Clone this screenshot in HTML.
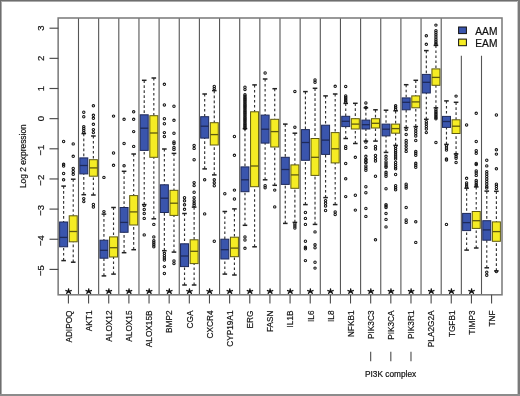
<!DOCTYPE html>
<html><head><meta charset="utf-8"><style>
html,body{margin:0;padding:0;background:#fff;}
body{width:520px;height:396px;overflow:hidden;position:relative;font-family:"Liberation Sans",sans-serif;}
svg text{font-family:"Liberation Sans",sans-serif;}
.f{position:absolute;}
</style></head><body>
<svg width="520" height="396" viewBox="0 0 520 396" style="display:block;will-change:transform">
<line x1="78.50" y1="18.0" x2="78.50" y2="294.8" stroke="#555" stroke-width="1.1"/>
<line x1="98.65" y1="18.0" x2="98.65" y2="294.8" stroke="#555" stroke-width="1.1"/>
<line x1="118.80" y1="18.0" x2="118.80" y2="294.8" stroke="#555" stroke-width="1.1"/>
<line x1="138.95" y1="18.0" x2="138.95" y2="294.8" stroke="#555" stroke-width="1.1"/>
<line x1="159.10" y1="18.0" x2="159.10" y2="294.8" stroke="#555" stroke-width="1.1"/>
<line x1="179.25" y1="18.0" x2="179.25" y2="294.8" stroke="#555" stroke-width="1.1"/>
<line x1="199.40" y1="18.0" x2="199.40" y2="294.8" stroke="#555" stroke-width="1.1"/>
<line x1="219.55" y1="18.0" x2="219.55" y2="294.8" stroke="#555" stroke-width="1.1"/>
<line x1="239.70" y1="18.0" x2="239.70" y2="294.8" stroke="#555" stroke-width="1.1"/>
<line x1="259.85" y1="18.0" x2="259.85" y2="294.8" stroke="#555" stroke-width="1.1"/>
<line x1="280.00" y1="18.0" x2="280.00" y2="294.8" stroke="#555" stroke-width="1.1"/>
<line x1="300.15" y1="18.0" x2="300.15" y2="294.8" stroke="#555" stroke-width="1.1"/>
<line x1="320.30" y1="18.0" x2="320.30" y2="294.8" stroke="#555" stroke-width="1.1"/>
<line x1="340.45" y1="18.0" x2="340.45" y2="294.8" stroke="#555" stroke-width="1.1"/>
<line x1="360.60" y1="18.0" x2="360.60" y2="294.8" stroke="#555" stroke-width="1.1"/>
<line x1="380.75" y1="18.0" x2="380.75" y2="294.8" stroke="#555" stroke-width="1.1"/>
<line x1="400.90" y1="18.0" x2="400.90" y2="294.8" stroke="#555" stroke-width="1.1"/>
<line x1="421.05" y1="18.0" x2="421.05" y2="294.8" stroke="#555" stroke-width="1.1"/>
<line x1="441.20" y1="18.0" x2="441.20" y2="294.8" stroke="#555" stroke-width="1.1"/>
<line x1="461.35" y1="55.5" x2="461.35" y2="294.8" stroke="#555" stroke-width="1.1"/>
<line x1="481.50" y1="55.5" x2="481.50" y2="294.8" stroke="#555" stroke-width="1.1"/>
<line x1="63.62" y1="186.1" x2="63.62" y2="222" stroke="#333" stroke-width="1.15" stroke-dasharray="2.6 2.4"/>
<line x1="63.62" y1="260.6" x2="63.62" y2="246.8" stroke="#333" stroke-width="1.15" stroke-dasharray="2.6 2.4"/>
<line x1="61.33" y1="186.1" x2="65.92" y2="186.1" stroke="#222" stroke-width="1.5"/>
<line x1="61.33" y1="260.6" x2="65.92" y2="260.6" stroke="#222" stroke-width="1.5"/>
<rect x="59.62" y="222" width="8.00" height="24.80" fill="#3a55ad" stroke="#1e2a5a" stroke-width="1"/>
<line x1="59.62" y1="237.4" x2="67.62" y2="237.4" stroke="#1e2a5a" stroke-width="1.3"/>
<circle cx="63.62" cy="141.5" r="1.2" fill="none" stroke="#151515" stroke-width="1.05"/>
<circle cx="63.62" cy="164.3" r="1.2" fill="none" stroke="#151515" stroke-width="1.05"/>
<circle cx="63.62" cy="166" r="1.2" fill="none" stroke="#151515" stroke-width="1.05"/>
<circle cx="63.62" cy="173.5" r="1.2" fill="none" stroke="#151515" stroke-width="1.05"/>
<circle cx="63.62" cy="179.8" r="1.2" fill="none" stroke="#151515" stroke-width="1.05"/>
<line x1="73.22" y1="179.2" x2="73.22" y2="215.8" stroke="#333" stroke-width="1.15" stroke-dasharray="2.6 2.4"/>
<line x1="73.22" y1="262.2" x2="73.22" y2="241.8" stroke="#333" stroke-width="1.15" stroke-dasharray="2.6 2.4"/>
<line x1="70.92" y1="179.2" x2="75.52" y2="179.2" stroke="#222" stroke-width="1.5"/>
<line x1="70.92" y1="262.2" x2="75.52" y2="262.2" stroke="#222" stroke-width="1.5"/>
<rect x="69.22" y="215.8" width="8.00" height="26.00" fill="#f5ec24" stroke="#5e5a10" stroke-width="1"/>
<line x1="69.22" y1="231.5" x2="77.22" y2="231.5" stroke="#5e5a10" stroke-width="1.3"/>
<circle cx="73.22" cy="143.9" r="1.2" fill="none" stroke="#151515" stroke-width="1.05"/>
<circle cx="73.22" cy="156.3" r="1.2" fill="none" stroke="#151515" stroke-width="1.05"/>
<circle cx="73.22" cy="168.5" r="1.2" fill="none" stroke="#151515" stroke-width="1.05"/>
<circle cx="73.22" cy="171.5" r="1.2" fill="none" stroke="#151515" stroke-width="1.05"/>
<circle cx="73.22" cy="174.3" r="1.2" fill="none" stroke="#151515" stroke-width="1.05"/>
<line x1="83.78" y1="133.6" x2="83.78" y2="157.9" stroke="#333" stroke-width="1.15" stroke-dasharray="2.6 2.4"/>
<line x1="83.78" y1="194.7" x2="83.78" y2="173.9" stroke="#333" stroke-width="1.15" stroke-dasharray="2.6 2.4"/>
<line x1="81.48" y1="133.6" x2="86.08" y2="133.6" stroke="#222" stroke-width="1.5"/>
<line x1="81.48" y1="194.7" x2="86.08" y2="194.7" stroke="#222" stroke-width="1.5"/>
<rect x="79.78" y="157.9" width="8.00" height="16.00" fill="#3a55ad" stroke="#1e2a5a" stroke-width="1"/>
<line x1="79.78" y1="165.5" x2="87.78" y2="165.5" stroke="#1e2a5a" stroke-width="1.3"/>
<circle cx="83.78" cy="112.2" r="1.2" fill="none" stroke="#151515" stroke-width="1.05"/>
<circle cx="83.78" cy="116.7" r="1.2" fill="none" stroke="#151515" stroke-width="1.05"/>
<circle cx="83.78" cy="126.6" r="1.2" fill="none" stroke="#151515" stroke-width="1.05"/>
<circle cx="83.78" cy="128.5" r="1.2" fill="none" stroke="#151515" stroke-width="1.05"/>
<circle cx="83.78" cy="130.5" r="1.2" fill="none" stroke="#151515" stroke-width="1.05"/>
<circle cx="83.78" cy="132.6" r="1.2" fill="none" stroke="#151515" stroke-width="1.05"/>
<circle cx="83.78" cy="198.6" r="1.2" fill="none" stroke="#151515" stroke-width="1.05"/>
<circle cx="83.78" cy="201.6" r="1.2" fill="none" stroke="#151515" stroke-width="1.05"/>
<line x1="93.38" y1="136" x2="93.38" y2="159.7" stroke="#333" stroke-width="1.15" stroke-dasharray="2.6 2.4"/>
<line x1="93.38" y1="195" x2="93.38" y2="176.2" stroke="#333" stroke-width="1.15" stroke-dasharray="2.6 2.4"/>
<line x1="91.08" y1="136" x2="95.67" y2="136" stroke="#222" stroke-width="1.5"/>
<line x1="91.08" y1="195" x2="95.67" y2="195" stroke="#222" stroke-width="1.5"/>
<rect x="89.38" y="159.7" width="8.00" height="16.50" fill="#f5ec24" stroke="#5e5a10" stroke-width="1"/>
<line x1="89.38" y1="167.9" x2="97.38" y2="167.9" stroke="#5e5a10" stroke-width="1.3"/>
<circle cx="93.38" cy="105.8" r="1.2" fill="none" stroke="#151515" stroke-width="1.05"/>
<circle cx="93.38" cy="115.3" r="1.2" fill="none" stroke="#151515" stroke-width="1.05"/>
<circle cx="93.38" cy="118.3" r="1.2" fill="none" stroke="#151515" stroke-width="1.05"/>
<circle cx="93.38" cy="124.3" r="1.2" fill="none" stroke="#151515" stroke-width="1.05"/>
<circle cx="93.38" cy="129.6" r="1.2" fill="none" stroke="#151515" stroke-width="1.05"/>
<circle cx="93.38" cy="132.6" r="1.2" fill="none" stroke="#151515" stroke-width="1.05"/>
<circle cx="93.38" cy="204.5" r="1.2" fill="none" stroke="#151515" stroke-width="1.05"/>
<circle cx="93.38" cy="207" r="1.2" fill="none" stroke="#151515" stroke-width="1.05"/>
<line x1="103.93" y1="214.1" x2="103.93" y2="240.2" stroke="#333" stroke-width="1.15" stroke-dasharray="2.6 2.4"/>
<line x1="103.93" y1="275.9" x2="103.93" y2="258.2" stroke="#333" stroke-width="1.15" stroke-dasharray="2.6 2.4"/>
<line x1="101.63" y1="214.1" x2="106.23" y2="214.1" stroke="#222" stroke-width="1.5"/>
<line x1="101.63" y1="275.9" x2="106.23" y2="275.9" stroke="#222" stroke-width="1.5"/>
<rect x="99.93" y="240.2" width="8.00" height="18.00" fill="#3a55ad" stroke="#1e2a5a" stroke-width="1"/>
<line x1="99.93" y1="250.3" x2="107.93" y2="250.3" stroke="#1e2a5a" stroke-width="1.3"/>
<circle cx="103.93" cy="177.4" r="1.2" fill="none" stroke="#151515" stroke-width="1.05"/>
<circle cx="103.93" cy="211.6" r="1.2" fill="none" stroke="#151515" stroke-width="1.05"/>
<line x1="113.53" y1="207.5" x2="113.53" y2="236.9" stroke="#333" stroke-width="1.15" stroke-dasharray="2.6 2.4"/>
<line x1="113.53" y1="274.1" x2="113.53" y2="257" stroke="#333" stroke-width="1.15" stroke-dasharray="2.6 2.4"/>
<line x1="111.23" y1="207.5" x2="115.83" y2="207.5" stroke="#222" stroke-width="1.5"/>
<line x1="111.23" y1="274.1" x2="115.83" y2="274.1" stroke="#222" stroke-width="1.5"/>
<rect x="109.53" y="236.9" width="8.00" height="20.10" fill="#f5ec24" stroke="#5e5a10" stroke-width="1"/>
<line x1="109.53" y1="247.7" x2="117.53" y2="247.7" stroke="#5e5a10" stroke-width="1.3"/>
<circle cx="113.53" cy="116.1" r="1.2" fill="none" stroke="#151515" stroke-width="1.05"/>
<circle cx="113.53" cy="153" r="1.2" fill="none" stroke="#151515" stroke-width="1.05"/>
<circle cx="113.53" cy="165.3" r="1.2" fill="none" stroke="#151515" stroke-width="1.05"/>
<line x1="124.08" y1="171.3" x2="124.08" y2="207.5" stroke="#333" stroke-width="1.15" stroke-dasharray="2.6 2.4"/>
<line x1="124.08" y1="252.7" x2="124.08" y2="232.3" stroke="#333" stroke-width="1.15" stroke-dasharray="2.6 2.4"/>
<line x1="121.78" y1="171.3" x2="126.38" y2="171.3" stroke="#222" stroke-width="1.5"/>
<line x1="121.78" y1="252.7" x2="126.38" y2="252.7" stroke="#222" stroke-width="1.5"/>
<rect x="120.08" y="207.5" width="8.00" height="24.80" fill="#3a55ad" stroke="#1e2a5a" stroke-width="1"/>
<line x1="120.08" y1="222.4" x2="128.07" y2="222.4" stroke="#1e2a5a" stroke-width="1.3"/>
<circle cx="124.08" cy="119.3" r="1.2" fill="none" stroke="#151515" stroke-width="1.05"/>
<circle cx="124.08" cy="143.5" r="1.2" fill="none" stroke="#151515" stroke-width="1.05"/>
<circle cx="124.08" cy="165.8" r="1.2" fill="none" stroke="#151515" stroke-width="1.05"/>
<line x1="133.68" y1="154" x2="133.68" y2="195.6" stroke="#333" stroke-width="1.15" stroke-dasharray="2.6 2.4"/>
<line x1="133.68" y1="249.7" x2="133.68" y2="225" stroke="#333" stroke-width="1.15" stroke-dasharray="2.6 2.4"/>
<line x1="131.38" y1="154" x2="135.98" y2="154" stroke="#222" stroke-width="1.5"/>
<line x1="131.38" y1="249.7" x2="135.98" y2="249.7" stroke="#222" stroke-width="1.5"/>
<rect x="129.68" y="195.6" width="8.00" height="29.40" fill="#f5ec24" stroke="#5e5a10" stroke-width="1"/>
<line x1="129.68" y1="211.9" x2="137.68" y2="211.9" stroke="#5e5a10" stroke-width="1.3"/>
<circle cx="133.68" cy="111.8" r="1.2" fill="none" stroke="#151515" stroke-width="1.05"/>
<circle cx="133.68" cy="119.3" r="1.2" fill="none" stroke="#151515" stroke-width="1.05"/>
<circle cx="133.68" cy="131.6" r="1.2" fill="none" stroke="#151515" stroke-width="1.05"/>
<circle cx="133.68" cy="146.4" r="1.2" fill="none" stroke="#151515" stroke-width="1.05"/>
<line x1="144.22" y1="80.3" x2="144.22" y2="114.8" stroke="#333" stroke-width="1.15" stroke-dasharray="2.6 2.4"/>
<line x1="144.22" y1="204.6" x2="144.22" y2="150.4" stroke="#333" stroke-width="1.15" stroke-dasharray="2.6 2.4"/>
<line x1="141.92" y1="80.3" x2="146.52" y2="80.3" stroke="#222" stroke-width="1.5"/>
<line x1="141.92" y1="204.6" x2="146.52" y2="204.6" stroke="#222" stroke-width="1.5"/>
<rect x="140.22" y="114.8" width="8.00" height="35.60" fill="#3a55ad" stroke="#1e2a5a" stroke-width="1"/>
<line x1="140.22" y1="128.2" x2="148.22" y2="128.2" stroke="#1e2a5a" stroke-width="1.3"/>
<circle cx="144.22" cy="205.5" r="1.2" fill="none" stroke="#151515" stroke-width="1.05"/>
<circle cx="144.22" cy="209.5" r="1.2" fill="none" stroke="#151515" stroke-width="1.05"/>
<circle cx="144.22" cy="213.5" r="1.2" fill="none" stroke="#151515" stroke-width="1.05"/>
<circle cx="144.22" cy="218.4" r="1.2" fill="none" stroke="#151515" stroke-width="1.05"/>
<circle cx="144.22" cy="234.9" r="1.2" fill="none" stroke="#151515" stroke-width="1.05"/>
<line x1="153.82" y1="78" x2="153.82" y2="115.7" stroke="#333" stroke-width="1.15" stroke-dasharray="2.6 2.4"/>
<line x1="153.82" y1="218.8" x2="153.82" y2="157.3" stroke="#333" stroke-width="1.15" stroke-dasharray="2.6 2.4"/>
<line x1="151.52" y1="78" x2="156.12" y2="78" stroke="#222" stroke-width="1.5"/>
<line x1="151.52" y1="218.8" x2="156.12" y2="218.8" stroke="#222" stroke-width="1.5"/>
<rect x="149.82" y="115.7" width="8.00" height="41.60" fill="#f5ec24" stroke="#5e5a10" stroke-width="1"/>
<line x1="149.82" y1="133" x2="157.82" y2="133" stroke="#5e5a10" stroke-width="1.3"/>
<circle cx="153.82" cy="224.4" r="1.2" fill="none" stroke="#151515" stroke-width="1.05"/>
<circle cx="153.82" cy="236.9" r="1.2" fill="none" stroke="#151515" stroke-width="1.05"/>
<circle cx="153.82" cy="240.8" r="1.2" fill="none" stroke="#151515" stroke-width="1.05"/>
<circle cx="153.82" cy="242.8" r="1.2" fill="none" stroke="#151515" stroke-width="1.05"/>
<circle cx="153.82" cy="244.8" r="1.2" fill="none" stroke="#151515" stroke-width="1.05"/>
<circle cx="153.82" cy="246.8" r="1.2" fill="none" stroke="#151515" stroke-width="1.05"/>
<line x1="164.37" y1="149" x2="164.37" y2="184.8" stroke="#333" stroke-width="1.15" stroke-dasharray="2.6 2.4"/>
<line x1="164.37" y1="250.7" x2="164.37" y2="212.5" stroke="#333" stroke-width="1.15" stroke-dasharray="2.6 2.4"/>
<line x1="162.07" y1="149" x2="166.67" y2="149" stroke="#222" stroke-width="1.5"/>
<line x1="162.07" y1="250.7" x2="166.67" y2="250.7" stroke="#222" stroke-width="1.5"/>
<rect x="160.37" y="184.8" width="8.00" height="27.70" fill="#3a55ad" stroke="#1e2a5a" stroke-width="1"/>
<line x1="160.37" y1="198.2" x2="168.37" y2="198.2" stroke="#1e2a5a" stroke-width="1.3"/>
<circle cx="164.37" cy="84.3" r="1.2" fill="none" stroke="#151515" stroke-width="1.05"/>
<circle cx="164.37" cy="104.9" r="1.2" fill="none" stroke="#151515" stroke-width="1.05"/>
<circle cx="164.37" cy="118.7" r="1.2" fill="none" stroke="#151515" stroke-width="1.05"/>
<circle cx="164.37" cy="123.7" r="1.2" fill="none" stroke="#151515" stroke-width="1.05"/>
<circle cx="164.37" cy="132.6" r="1.2" fill="none" stroke="#151515" stroke-width="1.05"/>
<circle cx="164.37" cy="136.5" r="1.2" fill="none" stroke="#151515" stroke-width="1.05"/>
<circle cx="164.37" cy="253.3" r="1.2" fill="none" stroke="#151515" stroke-width="1.05"/>
<circle cx="164.37" cy="255.7" r="1.2" fill="none" stroke="#151515" stroke-width="1.05"/>
<circle cx="164.37" cy="258" r="1.2" fill="none" stroke="#151515" stroke-width="1.05"/>
<circle cx="164.37" cy="260" r="1.2" fill="none" stroke="#151515" stroke-width="1.05"/>
<circle cx="164.37" cy="266.6" r="1.2" fill="none" stroke="#151515" stroke-width="1.05"/>
<circle cx="164.37" cy="273.5" r="1.2" fill="none" stroke="#151515" stroke-width="1.05"/>
<line x1="173.97" y1="153.4" x2="173.97" y2="190.3" stroke="#333" stroke-width="1.15" stroke-dasharray="2.6 2.4"/>
<line x1="173.97" y1="252.1" x2="173.97" y2="215.4" stroke="#333" stroke-width="1.15" stroke-dasharray="2.6 2.4"/>
<line x1="171.67" y1="153.4" x2="176.28" y2="153.4" stroke="#222" stroke-width="1.5"/>
<line x1="171.67" y1="252.1" x2="176.28" y2="252.1" stroke="#222" stroke-width="1.5"/>
<rect x="169.97" y="190.3" width="8.00" height="25.10" fill="#f5ec24" stroke="#5e5a10" stroke-width="1"/>
<line x1="169.97" y1="203.2" x2="177.97" y2="203.2" stroke="#5e5a10" stroke-width="1.3"/>
<circle cx="173.97" cy="106.2" r="1.2" fill="none" stroke="#151515" stroke-width="1.05"/>
<circle cx="173.97" cy="120.3" r="1.2" fill="none" stroke="#151515" stroke-width="1.05"/>
<circle cx="173.97" cy="133.2" r="1.2" fill="none" stroke="#151515" stroke-width="1.05"/>
<circle cx="173.97" cy="141.9" r="1.2" fill="none" stroke="#151515" stroke-width="1.05"/>
<circle cx="173.97" cy="143.5" r="1.2" fill="none" stroke="#151515" stroke-width="1.05"/>
<circle cx="173.97" cy="147.4" r="1.2" fill="none" stroke="#151515" stroke-width="1.05"/>
<circle cx="173.97" cy="149.4" r="1.2" fill="none" stroke="#151515" stroke-width="1.05"/>
<circle cx="173.97" cy="261" r="1.2" fill="none" stroke="#151515" stroke-width="1.05"/>
<circle cx="173.97" cy="263.6" r="1.2" fill="none" stroke="#151515" stroke-width="1.05"/>
<line x1="184.52" y1="213.5" x2="184.52" y2="243.8" stroke="#333" stroke-width="1.15" stroke-dasharray="2.6 2.4"/>
<line x1="184.52" y1="285" x2="184.52" y2="266.6" stroke="#333" stroke-width="1.15" stroke-dasharray="2.6 2.4"/>
<line x1="182.22" y1="213.5" x2="186.82" y2="213.5" stroke="#222" stroke-width="1.5"/>
<line x1="182.22" y1="285" x2="186.82" y2="285" stroke="#222" stroke-width="1.5"/>
<rect x="180.52" y="243.8" width="8.00" height="22.80" fill="#3a55ad" stroke="#1e2a5a" stroke-width="1"/>
<line x1="180.52" y1="256" x2="188.52" y2="256" stroke="#1e2a5a" stroke-width="1.3"/>
<circle cx="184.52" cy="197.7" r="1.2" fill="none" stroke="#151515" stroke-width="1.05"/>
<circle cx="184.52" cy="200.8" r="1.2" fill="none" stroke="#151515" stroke-width="1.05"/>
<circle cx="184.52" cy="204.8" r="1.2" fill="none" stroke="#151515" stroke-width="1.05"/>
<circle cx="184.52" cy="209.3" r="1.2" fill="none" stroke="#151515" stroke-width="1.05"/>
<line x1="194.12" y1="207.1" x2="194.12" y2="239.8" stroke="#333" stroke-width="1.15" stroke-dasharray="2.6 2.4"/>
<line x1="194.12" y1="285" x2="194.12" y2="263.6" stroke="#333" stroke-width="1.15" stroke-dasharray="2.6 2.4"/>
<line x1="191.82" y1="207.1" x2="196.43" y2="207.1" stroke="#222" stroke-width="1.5"/>
<line x1="191.82" y1="285" x2="196.43" y2="285" stroke="#222" stroke-width="1.5"/>
<rect x="190.12" y="239.8" width="8.00" height="23.80" fill="#f5ec24" stroke="#5e5a10" stroke-width="1"/>
<line x1="190.12" y1="251.3" x2="198.12" y2="251.3" stroke="#5e5a10" stroke-width="1.3"/>
<circle cx="194.12" cy="145.4" r="1.2" fill="none" stroke="#151515" stroke-width="1.05"/>
<circle cx="194.12" cy="148.4" r="1.2" fill="none" stroke="#151515" stroke-width="1.05"/>
<circle cx="194.12" cy="159.7" r="1.2" fill="none" stroke="#151515" stroke-width="1.05"/>
<circle cx="194.12" cy="182.6" r="1.2" fill="none" stroke="#151515" stroke-width="1.05"/>
<circle cx="194.12" cy="185.6" r="1.2" fill="none" stroke="#151515" stroke-width="1.05"/>
<circle cx="194.12" cy="192.2" r="1.2" fill="none" stroke="#151515" stroke-width="1.05"/>
<circle cx="194.12" cy="197.7" r="1.2" fill="none" stroke="#151515" stroke-width="1.05"/>
<circle cx="194.12" cy="200.8" r="1.2" fill="none" stroke="#151515" stroke-width="1.05"/>
<circle cx="194.12" cy="203.3" r="1.2" fill="none" stroke="#151515" stroke-width="1.05"/>
<circle cx="194.12" cy="205.3" r="1.2" fill="none" stroke="#151515" stroke-width="1.05"/>
<line x1="204.67" y1="94" x2="204.67" y2="116.7" stroke="#333" stroke-width="1.15" stroke-dasharray="2.6 2.4"/>
<line x1="204.67" y1="168.9" x2="204.67" y2="138.1" stroke="#333" stroke-width="1.15" stroke-dasharray="2.6 2.4"/>
<line x1="202.37" y1="94" x2="206.97" y2="94" stroke="#222" stroke-width="1.5"/>
<line x1="202.37" y1="168.9" x2="206.97" y2="168.9" stroke="#222" stroke-width="1.5"/>
<rect x="200.67" y="116.7" width="8.00" height="21.40" fill="#3a55ad" stroke="#1e2a5a" stroke-width="1"/>
<line x1="200.67" y1="126.2" x2="208.67" y2="126.2" stroke="#1e2a5a" stroke-width="1.3"/>
<circle cx="204.67" cy="179.8" r="1.2" fill="none" stroke="#151515" stroke-width="1.05"/>
<circle cx="204.67" cy="213.9" r="1.2" fill="none" stroke="#151515" stroke-width="1.05"/>
<line x1="214.27" y1="90.6" x2="214.27" y2="122.7" stroke="#333" stroke-width="1.15" stroke-dasharray="2.6 2.4"/>
<line x1="214.27" y1="174.9" x2="214.27" y2="145" stroke="#333" stroke-width="1.15" stroke-dasharray="2.6 2.4"/>
<line x1="211.97" y1="90.6" x2="216.57" y2="90.6" stroke="#222" stroke-width="1.5"/>
<line x1="211.97" y1="174.9" x2="216.57" y2="174.9" stroke="#222" stroke-width="1.5"/>
<rect x="210.27" y="122.7" width="8.00" height="22.30" fill="#f5ec24" stroke="#5e5a10" stroke-width="1"/>
<line x1="210.27" y1="134.6" x2="218.27" y2="134.6" stroke="#5e5a10" stroke-width="1.3"/>
<circle cx="214.27" cy="86.4" r="1.2" fill="none" stroke="#151515" stroke-width="1.05"/>
<circle cx="214.27" cy="88.6" r="1.2" fill="none" stroke="#151515" stroke-width="1.05"/>
<circle cx="214.27" cy="179.8" r="1.2" fill="none" stroke="#151515" stroke-width="1.05"/>
<circle cx="214.27" cy="182.8" r="1.2" fill="none" stroke="#151515" stroke-width="1.05"/>
<circle cx="214.27" cy="185.7" r="1.2" fill="none" stroke="#151515" stroke-width="1.05"/>
<circle cx="214.27" cy="241.2" r="1.2" fill="none" stroke="#151515" stroke-width="1.05"/>
<line x1="224.82" y1="211.5" x2="224.82" y2="239.2" stroke="#333" stroke-width="1.15" stroke-dasharray="2.6 2.4"/>
<line x1="224.82" y1="274.1" x2="224.82" y2="259" stroke="#333" stroke-width="1.15" stroke-dasharray="2.6 2.4"/>
<line x1="222.52" y1="211.5" x2="227.12" y2="211.5" stroke="#222" stroke-width="1.5"/>
<line x1="222.52" y1="274.1" x2="227.12" y2="274.1" stroke="#222" stroke-width="1.5"/>
<rect x="220.82" y="239.2" width="8.00" height="19.80" fill="#3a55ad" stroke="#1e2a5a" stroke-width="1"/>
<line x1="220.82" y1="249.7" x2="228.82" y2="249.7" stroke="#1e2a5a" stroke-width="1.3"/>
<circle cx="224.82" cy="193.7" r="1.2" fill="none" stroke="#151515" stroke-width="1.05"/>
<line x1="234.42" y1="208.9" x2="234.42" y2="237.2" stroke="#333" stroke-width="1.15" stroke-dasharray="2.6 2.4"/>
<line x1="234.42" y1="275" x2="234.42" y2="256.7" stroke="#333" stroke-width="1.15" stroke-dasharray="2.6 2.4"/>
<line x1="232.12" y1="208.9" x2="236.72" y2="208.9" stroke="#222" stroke-width="1.5"/>
<line x1="232.12" y1="275" x2="236.72" y2="275" stroke="#222" stroke-width="1.5"/>
<rect x="230.42" y="237.2" width="8.00" height="19.50" fill="#f5ec24" stroke="#5e5a10" stroke-width="1"/>
<line x1="230.42" y1="248.1" x2="238.42" y2="248.1" stroke="#5e5a10" stroke-width="1.3"/>
<circle cx="234.42" cy="136.5" r="1.2" fill="none" stroke="#151515" stroke-width="1.05"/>
<circle cx="234.42" cy="155.3" r="1.2" fill="none" stroke="#151515" stroke-width="1.05"/>
<circle cx="234.42" cy="190.1" r="1.2" fill="none" stroke="#151515" stroke-width="1.05"/>
<circle cx="234.42" cy="199" r="1.2" fill="none" stroke="#151515" stroke-width="1.05"/>
<line x1="244.97" y1="128.6" x2="244.97" y2="166.9" stroke="#333" stroke-width="1.15" stroke-dasharray="2.6 2.4"/>
<line x1="244.97" y1="225.3" x2="244.97" y2="191.7" stroke="#333" stroke-width="1.15" stroke-dasharray="2.6 2.4"/>
<line x1="242.67" y1="128.6" x2="247.27" y2="128.6" stroke="#222" stroke-width="1.5"/>
<line x1="242.67" y1="225.3" x2="247.27" y2="225.3" stroke="#222" stroke-width="1.5"/>
<rect x="240.97" y="166.9" width="8.00" height="24.80" fill="#3a55ad" stroke="#1e2a5a" stroke-width="1"/>
<line x1="240.97" y1="179.8" x2="248.97" y2="179.8" stroke="#1e2a5a" stroke-width="1.3"/>
<circle cx="244.97" cy="87.2" r="1.2" fill="none" stroke="#151515" stroke-width="1.05"/>
<circle cx="244.97" cy="89.6" r="1.2" fill="none" stroke="#151515" stroke-width="1.05"/>
<circle cx="244.97" cy="94.8" r="1.2" fill="none" stroke="#151515" stroke-width="1.05"/>
<circle cx="244.97" cy="96.1" r="1.2" fill="none" stroke="#151515" stroke-width="1.05"/>
<circle cx="244.97" cy="97.39999999999999" r="1.2" fill="none" stroke="#151515" stroke-width="1.05"/>
<circle cx="244.97" cy="98.7" r="1.2" fill="none" stroke="#151515" stroke-width="1.05"/>
<circle cx="244.97" cy="100.0" r="1.2" fill="none" stroke="#151515" stroke-width="1.05"/>
<circle cx="244.97" cy="101.3" r="1.2" fill="none" stroke="#151515" stroke-width="1.05"/>
<circle cx="244.97" cy="102.6" r="1.2" fill="none" stroke="#151515" stroke-width="1.05"/>
<circle cx="244.97" cy="103.89999999999999" r="1.2" fill="none" stroke="#151515" stroke-width="1.05"/>
<circle cx="244.97" cy="105.2" r="1.2" fill="none" stroke="#151515" stroke-width="1.05"/>
<circle cx="244.97" cy="106.5" r="1.2" fill="none" stroke="#151515" stroke-width="1.05"/>
<circle cx="244.97" cy="107.8" r="1.2" fill="none" stroke="#151515" stroke-width="1.05"/>
<circle cx="244.97" cy="109.1" r="1.2" fill="none" stroke="#151515" stroke-width="1.05"/>
<circle cx="244.97" cy="110.4" r="1.2" fill="none" stroke="#151515" stroke-width="1.05"/>
<circle cx="244.97" cy="111.7" r="1.2" fill="none" stroke="#151515" stroke-width="1.05"/>
<circle cx="244.97" cy="113.0" r="1.2" fill="none" stroke="#151515" stroke-width="1.05"/>
<circle cx="244.97" cy="114.3" r="1.2" fill="none" stroke="#151515" stroke-width="1.05"/>
<circle cx="244.97" cy="115.6" r="1.2" fill="none" stroke="#151515" stroke-width="1.05"/>
<circle cx="244.97" cy="116.9" r="1.2" fill="none" stroke="#151515" stroke-width="1.05"/>
<circle cx="244.97" cy="118.2" r="1.2" fill="none" stroke="#151515" stroke-width="1.05"/>
<circle cx="244.97" cy="119.5" r="1.2" fill="none" stroke="#151515" stroke-width="1.05"/>
<circle cx="244.97" cy="120.8" r="1.2" fill="none" stroke="#151515" stroke-width="1.05"/>
<circle cx="244.97" cy="122.1" r="1.2" fill="none" stroke="#151515" stroke-width="1.05"/>
<circle cx="244.97" cy="123.4" r="1.2" fill="none" stroke="#151515" stroke-width="1.05"/>
<circle cx="244.97" cy="124.7" r="1.2" fill="none" stroke="#151515" stroke-width="1.05"/>
<circle cx="244.97" cy="126.0" r="1.2" fill="none" stroke="#151515" stroke-width="1.05"/>
<circle cx="244.97" cy="127.3" r="1.2" fill="none" stroke="#151515" stroke-width="1.05"/>
<circle cx="244.97" cy="128.6" r="1.2" fill="none" stroke="#151515" stroke-width="1.05"/>
<circle cx="244.97" cy="236.9" r="1.2" fill="none" stroke="#151515" stroke-width="1.05"/>
<circle cx="244.97" cy="240" r="1.2" fill="none" stroke="#151515" stroke-width="1.05"/>
<circle cx="244.97" cy="248.3" r="1.2" fill="none" stroke="#151515" stroke-width="1.05"/>
<line x1="254.57" y1="84.9" x2="254.57" y2="111.8" stroke="#333" stroke-width="1.15" stroke-dasharray="2.6 2.4"/>
<line x1="254.57" y1="246.8" x2="254.57" y2="186.7" stroke="#333" stroke-width="1.15" stroke-dasharray="2.6 2.4"/>
<line x1="252.27" y1="84.9" x2="256.88" y2="84.9" stroke="#222" stroke-width="1.5"/>
<line x1="252.27" y1="246.8" x2="256.88" y2="246.8" stroke="#222" stroke-width="1.5"/>
<rect x="250.57" y="111.8" width="8.00" height="74.90" fill="#f5ec24" stroke="#5e5a10" stroke-width="1"/>
<line x1="250.57" y1="166" x2="258.57" y2="166" stroke="#5e5a10" stroke-width="1.3"/>
<line x1="265.12" y1="79" x2="265.12" y2="115.1" stroke="#333" stroke-width="1.15" stroke-dasharray="2.6 2.4"/>
<line x1="265.12" y1="179.8" x2="265.12" y2="143.1" stroke="#333" stroke-width="1.15" stroke-dasharray="2.6 2.4"/>
<line x1="262.82" y1="79" x2="267.43" y2="79" stroke="#222" stroke-width="1.5"/>
<line x1="262.82" y1="179.8" x2="267.43" y2="179.8" stroke="#222" stroke-width="1.5"/>
<rect x="261.12" y="115.1" width="8.00" height="28.00" fill="#3a55ad" stroke="#1e2a5a" stroke-width="1"/>
<line x1="261.12" y1="129.2" x2="269.12" y2="129.2" stroke="#1e2a5a" stroke-width="1.3"/>
<circle cx="265.12" cy="73" r="1.2" fill="none" stroke="#151515" stroke-width="1.05"/>
<circle cx="265.12" cy="185.7" r="1.2" fill="none" stroke="#151515" stroke-width="1.05"/>
<circle cx="265.12" cy="187.7" r="1.2" fill="none" stroke="#151515" stroke-width="1.05"/>
<line x1="274.73" y1="88.7" x2="274.73" y2="119.3" stroke="#333" stroke-width="1.15" stroke-dasharray="2.6 2.4"/>
<line x1="274.73" y1="185.3" x2="274.73" y2="147" stroke="#333" stroke-width="1.15" stroke-dasharray="2.6 2.4"/>
<line x1="272.43" y1="88.7" x2="277.03" y2="88.7" stroke="#222" stroke-width="1.5"/>
<line x1="272.43" y1="185.3" x2="277.03" y2="185.3" stroke="#222" stroke-width="1.5"/>
<rect x="270.73" y="119.3" width="8.00" height="27.70" fill="#f5ec24" stroke="#5e5a10" stroke-width="1"/>
<line x1="270.73" y1="131.6" x2="278.73" y2="131.6" stroke="#5e5a10" stroke-width="1.3"/>
<circle cx="274.73" cy="190.1" r="1.2" fill="none" stroke="#151515" stroke-width="1.05"/>
<circle cx="274.73" cy="206.9" r="1.2" fill="none" stroke="#151515" stroke-width="1.05"/>
<line x1="285.27" y1="124.1" x2="285.27" y2="157.3" stroke="#333" stroke-width="1.15" stroke-dasharray="2.6 2.4"/>
<line x1="285.27" y1="223.4" x2="285.27" y2="184.4" stroke="#333" stroke-width="1.15" stroke-dasharray="2.6 2.4"/>
<line x1="282.97" y1="124.1" x2="287.57" y2="124.1" stroke="#222" stroke-width="1.5"/>
<line x1="282.97" y1="223.4" x2="287.57" y2="223.4" stroke="#222" stroke-width="1.5"/>
<rect x="281.27" y="157.3" width="8.00" height="27.10" fill="#3a55ad" stroke="#1e2a5a" stroke-width="1"/>
<line x1="281.27" y1="169.5" x2="289.27" y2="169.5" stroke="#1e2a5a" stroke-width="1.3"/>
<line x1="294.88" y1="133.2" x2="294.88" y2="164.9" stroke="#333" stroke-width="1.15" stroke-dasharray="2.6 2.4"/>
<line x1="294.88" y1="222.4" x2="294.88" y2="188.3" stroke="#333" stroke-width="1.15" stroke-dasharray="2.6 2.4"/>
<line x1="292.57" y1="133.2" x2="297.18" y2="133.2" stroke="#222" stroke-width="1.5"/>
<line x1="292.57" y1="222.4" x2="297.18" y2="222.4" stroke="#222" stroke-width="1.5"/>
<rect x="290.88" y="164.9" width="8.00" height="23.40" fill="#f5ec24" stroke="#5e5a10" stroke-width="1"/>
<line x1="290.88" y1="174.9" x2="298.88" y2="174.9" stroke="#5e5a10" stroke-width="1.3"/>
<circle cx="294.88" cy="91.4" r="1.2" fill="none" stroke="#151515" stroke-width="1.05"/>
<circle cx="294.88" cy="127.2" r="1.2" fill="none" stroke="#151515" stroke-width="1.05"/>
<circle cx="294.88" cy="224" r="1.2" fill="none" stroke="#151515" stroke-width="1.05"/>
<circle cx="294.88" cy="226" r="1.2" fill="none" stroke="#151515" stroke-width="1.05"/>
<circle cx="294.88" cy="228" r="1.2" fill="none" stroke="#151515" stroke-width="1.05"/>
<line x1="305.42" y1="91.6" x2="305.42" y2="129.6" stroke="#333" stroke-width="1.15" stroke-dasharray="2.6 2.4"/>
<line x1="305.42" y1="204.6" x2="305.42" y2="160.3" stroke="#333" stroke-width="1.15" stroke-dasharray="2.6 2.4"/>
<line x1="303.12" y1="91.6" x2="307.72" y2="91.6" stroke="#222" stroke-width="1.5"/>
<line x1="303.12" y1="204.6" x2="307.72" y2="204.6" stroke="#222" stroke-width="1.5"/>
<rect x="301.42" y="129.6" width="8.00" height="30.70" fill="#3a55ad" stroke="#1e2a5a" stroke-width="1"/>
<line x1="301.42" y1="142.5" x2="309.42" y2="142.5" stroke="#1e2a5a" stroke-width="1.3"/>
<circle cx="305.42" cy="212.5" r="1.2" fill="none" stroke="#151515" stroke-width="1.05"/>
<circle cx="305.42" cy="218.4" r="1.2" fill="none" stroke="#151515" stroke-width="1.05"/>
<circle cx="305.42" cy="224.4" r="1.2" fill="none" stroke="#151515" stroke-width="1.05"/>
<circle cx="305.42" cy="241.2" r="1.2" fill="none" stroke="#151515" stroke-width="1.05"/>
<circle cx="305.42" cy="247.3" r="1.2" fill="none" stroke="#151515" stroke-width="1.05"/>
<circle cx="305.42" cy="248.7" r="1.2" fill="none" stroke="#151515" stroke-width="1.05"/>
<circle cx="305.42" cy="260.6" r="1.2" fill="none" stroke="#151515" stroke-width="1.05"/>
<line x1="315.02" y1="88.3" x2="315.02" y2="138.5" stroke="#333" stroke-width="1.15" stroke-dasharray="2.6 2.4"/>
<line x1="315.02" y1="224.4" x2="315.02" y2="175.4" stroke="#333" stroke-width="1.15" stroke-dasharray="2.6 2.4"/>
<line x1="312.72" y1="88.3" x2="317.32" y2="88.3" stroke="#222" stroke-width="1.5"/>
<line x1="312.72" y1="224.4" x2="317.32" y2="224.4" stroke="#222" stroke-width="1.5"/>
<rect x="311.02" y="138.5" width="8.00" height="36.90" fill="#f5ec24" stroke="#5e5a10" stroke-width="1"/>
<line x1="311.02" y1="157.3" x2="319.02" y2="157.3" stroke="#5e5a10" stroke-width="1.3"/>
<circle cx="315.02" cy="80" r="1.2" fill="none" stroke="#151515" stroke-width="1.05"/>
<circle cx="315.02" cy="82.3" r="1.2" fill="none" stroke="#151515" stroke-width="1.05"/>
<circle cx="315.02" cy="231.9" r="1.2" fill="none" stroke="#151515" stroke-width="1.05"/>
<circle cx="315.02" cy="244.8" r="1.2" fill="none" stroke="#151515" stroke-width="1.05"/>
<circle cx="315.02" cy="247.7" r="1.2" fill="none" stroke="#151515" stroke-width="1.05"/>
<circle cx="315.02" cy="262.2" r="1.2" fill="none" stroke="#151515" stroke-width="1.05"/>
<circle cx="315.02" cy="268.1" r="1.2" fill="none" stroke="#151515" stroke-width="1.05"/>
<line x1="325.57" y1="95.9" x2="325.57" y2="125.2" stroke="#333" stroke-width="1.15" stroke-dasharray="2.6 2.4"/>
<line x1="325.57" y1="197.6" x2="325.57" y2="154.4" stroke="#333" stroke-width="1.15" stroke-dasharray="2.6 2.4"/>
<line x1="323.27" y1="95.9" x2="327.88" y2="95.9" stroke="#222" stroke-width="1.5"/>
<line x1="323.27" y1="197.6" x2="327.88" y2="197.6" stroke="#222" stroke-width="1.5"/>
<rect x="321.57" y="125.2" width="8.00" height="29.20" fill="#3a55ad" stroke="#1e2a5a" stroke-width="1"/>
<line x1="321.57" y1="140.1" x2="329.57" y2="140.1" stroke="#1e2a5a" stroke-width="1.3"/>
<circle cx="325.57" cy="200.6" r="1.2" fill="none" stroke="#151515" stroke-width="1.05"/>
<circle cx="325.57" cy="203.2" r="1.2" fill="none" stroke="#151515" stroke-width="1.05"/>
<circle cx="325.57" cy="206" r="1.2" fill="none" stroke="#151515" stroke-width="1.05"/>
<circle cx="325.57" cy="210.5" r="1.2" fill="none" stroke="#151515" stroke-width="1.05"/>
<line x1="335.18" y1="94" x2="335.18" y2="132.6" stroke="#333" stroke-width="1.15" stroke-dasharray="2.6 2.4"/>
<line x1="335.18" y1="204.6" x2="335.18" y2="162.9" stroke="#333" stroke-width="1.15" stroke-dasharray="2.6 2.4"/>
<line x1="332.88" y1="94" x2="337.48" y2="94" stroke="#222" stroke-width="1.5"/>
<line x1="332.88" y1="204.6" x2="337.48" y2="204.6" stroke="#222" stroke-width="1.5"/>
<rect x="331.18" y="132.6" width="8.00" height="30.30" fill="#f5ec24" stroke="#5e5a10" stroke-width="1"/>
<line x1="331.18" y1="148.8" x2="339.18" y2="148.8" stroke="#5e5a10" stroke-width="1.3"/>
<circle cx="335.18" cy="86.3" r="1.2" fill="none" stroke="#151515" stroke-width="1.05"/>
<circle cx="335.18" cy="211.9" r="1.2" fill="none" stroke="#151515" stroke-width="1.05"/>
<circle cx="335.18" cy="214.5" r="1.2" fill="none" stroke="#151515" stroke-width="1.05"/>
<line x1="345.72" y1="103.4" x2="345.72" y2="116.3" stroke="#333" stroke-width="1.15" stroke-dasharray="2.6 2.4"/>
<line x1="345.72" y1="138.5" x2="345.72" y2="126.6" stroke="#333" stroke-width="1.15" stroke-dasharray="2.6 2.4"/>
<line x1="343.42" y1="103.4" x2="348.02" y2="103.4" stroke="#222" stroke-width="1.5"/>
<line x1="343.42" y1="138.5" x2="348.02" y2="138.5" stroke="#222" stroke-width="1.5"/>
<rect x="341.72" y="116.3" width="8.00" height="10.30" fill="#3a55ad" stroke="#1e2a5a" stroke-width="1"/>
<line x1="341.72" y1="121.3" x2="349.72" y2="121.3" stroke="#1e2a5a" stroke-width="1.3"/>
<circle cx="345.72" cy="86.4" r="1.2" fill="none" stroke="#151515" stroke-width="1.05"/>
<circle cx="345.72" cy="96" r="1.2" fill="none" stroke="#151515" stroke-width="1.05"/>
<circle cx="345.72" cy="97.5" r="1.2" fill="none" stroke="#151515" stroke-width="1.05"/>
<circle cx="345.72" cy="99" r="1.2" fill="none" stroke="#151515" stroke-width="1.05"/>
<circle cx="345.72" cy="100.5" r="1.2" fill="none" stroke="#151515" stroke-width="1.05"/>
<circle cx="345.72" cy="102" r="1.2" fill="none" stroke="#151515" stroke-width="1.05"/>
<circle cx="345.72" cy="146.4" r="1.2" fill="none" stroke="#151515" stroke-width="1.05"/>
<circle cx="345.72" cy="148.4" r="1.2" fill="none" stroke="#151515" stroke-width="1.05"/>
<circle cx="345.72" cy="163.5" r="1.2" fill="none" stroke="#151515" stroke-width="1.05"/>
<circle cx="345.72" cy="178.8" r="1.2" fill="none" stroke="#151515" stroke-width="1.05"/>
<circle cx="345.72" cy="196.6" r="1.2" fill="none" stroke="#151515" stroke-width="1.05"/>
<line x1="355.32" y1="103.3" x2="355.32" y2="118.7" stroke="#333" stroke-width="1.15" stroke-dasharray="2.6 2.4"/>
<line x1="355.32" y1="143.5" x2="355.32" y2="129" stroke="#333" stroke-width="1.15" stroke-dasharray="2.6 2.4"/>
<line x1="353.02" y1="103.3" x2="357.62" y2="103.3" stroke="#222" stroke-width="1.5"/>
<line x1="353.02" y1="143.5" x2="357.62" y2="143.5" stroke="#222" stroke-width="1.5"/>
<rect x="351.32" y="118.7" width="8.00" height="10.30" fill="#f5ec24" stroke="#5e5a10" stroke-width="1"/>
<line x1="351.32" y1="124.1" x2="359.32" y2="124.1" stroke="#5e5a10" stroke-width="1.3"/>
<circle cx="355.32" cy="157.3" r="1.2" fill="none" stroke="#151515" stroke-width="1.05"/>
<circle cx="355.32" cy="195.2" r="1.2" fill="none" stroke="#151515" stroke-width="1.05"/>
<circle cx="355.32" cy="210.1" r="1.2" fill="none" stroke="#151515" stroke-width="1.05"/>
<line x1="365.88" y1="107.8" x2="365.88" y2="120.1" stroke="#333" stroke-width="1.15" stroke-dasharray="2.6 2.4"/>
<line x1="365.88" y1="141.1" x2="365.88" y2="129" stroke="#333" stroke-width="1.15" stroke-dasharray="2.6 2.4"/>
<line x1="363.57" y1="107.8" x2="368.18" y2="107.8" stroke="#222" stroke-width="1.5"/>
<line x1="363.57" y1="141.1" x2="368.18" y2="141.1" stroke="#222" stroke-width="1.5"/>
<rect x="361.88" y="120.1" width="8.00" height="8.90" fill="#3a55ad" stroke="#1e2a5a" stroke-width="1"/>
<line x1="361.88" y1="124.7" x2="369.88" y2="124.7" stroke="#1e2a5a" stroke-width="1.3"/>
<circle cx="365.88" cy="102.9" r="1.2" fill="none" stroke="#151515" stroke-width="1.05"/>
<circle cx="365.88" cy="107.4" r="1.2" fill="none" stroke="#151515" stroke-width="1.05"/>
<circle cx="365.88" cy="142" r="1.2" fill="none" stroke="#151515" stroke-width="1.05"/>
<circle cx="365.88" cy="147.4" r="1.2" fill="none" stroke="#151515" stroke-width="1.05"/>
<circle cx="365.88" cy="156.3" r="1.2" fill="none" stroke="#151515" stroke-width="1.05"/>
<circle cx="365.88" cy="159.3" r="1.2" fill="none" stroke="#151515" stroke-width="1.05"/>
<circle cx="365.88" cy="162.3" r="1.2" fill="none" stroke="#151515" stroke-width="1.05"/>
<circle cx="365.88" cy="160" r="1.2" fill="none" stroke="#151515" stroke-width="1.05"/>
<circle cx="365.88" cy="162.4" r="1.2" fill="none" stroke="#151515" stroke-width="1.05"/>
<circle cx="365.88" cy="166" r="1.2" fill="none" stroke="#151515" stroke-width="1.05"/>
<circle cx="365.88" cy="168.3" r="1.2" fill="none" stroke="#151515" stroke-width="1.05"/>
<circle cx="365.88" cy="170.3" r="1.2" fill="none" stroke="#151515" stroke-width="1.05"/>
<circle cx="365.88" cy="186.7" r="1.2" fill="none" stroke="#151515" stroke-width="1.05"/>
<circle cx="365.88" cy="192.7" r="1.2" fill="none" stroke="#151515" stroke-width="1.05"/>
<circle cx="365.88" cy="208.5" r="1.2" fill="none" stroke="#151515" stroke-width="1.05"/>
<circle cx="365.88" cy="216.4" r="1.2" fill="none" stroke="#151515" stroke-width="1.05"/>
<line x1="375.48" y1="109.8" x2="375.48" y2="118.7" stroke="#333" stroke-width="1.15" stroke-dasharray="2.6 2.4"/>
<line x1="375.48" y1="141.1" x2="375.48" y2="128" stroke="#333" stroke-width="1.15" stroke-dasharray="2.6 2.4"/>
<line x1="373.18" y1="109.8" x2="377.78" y2="109.8" stroke="#222" stroke-width="1.5"/>
<line x1="373.18" y1="141.1" x2="377.78" y2="141.1" stroke="#222" stroke-width="1.5"/>
<rect x="371.48" y="118.7" width="8.00" height="9.30" fill="#f5ec24" stroke="#5e5a10" stroke-width="1"/>
<line x1="371.48" y1="123.3" x2="379.48" y2="123.3" stroke="#5e5a10" stroke-width="1.3"/>
<circle cx="375.48" cy="146.5" r="1.2" fill="none" stroke="#151515" stroke-width="1.05"/>
<circle cx="375.48" cy="149" r="1.2" fill="none" stroke="#151515" stroke-width="1.05"/>
<circle cx="375.48" cy="155.5" r="1.2" fill="none" stroke="#151515" stroke-width="1.05"/>
<circle cx="375.48" cy="158.5" r="1.2" fill="none" stroke="#151515" stroke-width="1.05"/>
<circle cx="375.48" cy="161" r="1.2" fill="none" stroke="#151515" stroke-width="1.05"/>
<circle cx="375.48" cy="176.2" r="1.2" fill="none" stroke="#151515" stroke-width="1.05"/>
<circle cx="375.48" cy="239.8" r="1.2" fill="none" stroke="#151515" stroke-width="1.05"/>
<line x1="386.02" y1="110.2" x2="386.02" y2="124.1" stroke="#333" stroke-width="1.15" stroke-dasharray="2.6 2.4"/>
<line x1="386.02" y1="152.4" x2="386.02" y2="135.9" stroke="#333" stroke-width="1.15" stroke-dasharray="2.6 2.4"/>
<line x1="383.72" y1="110.2" x2="388.32" y2="110.2" stroke="#222" stroke-width="1.5"/>
<line x1="383.72" y1="152.4" x2="388.32" y2="152.4" stroke="#222" stroke-width="1.5"/>
<rect x="382.02" y="124.1" width="8.00" height="11.80" fill="#3a55ad" stroke="#1e2a5a" stroke-width="1"/>
<line x1="382.02" y1="129.2" x2="390.02" y2="129.2" stroke="#1e2a5a" stroke-width="1.3"/>
<circle cx="386.02" cy="156.3" r="1.2" fill="none" stroke="#151515" stroke-width="1.05"/>
<circle cx="386.02" cy="159" r="1.2" fill="none" stroke="#151515" stroke-width="1.05"/>
<circle cx="386.02" cy="162" r="1.2" fill="none" stroke="#151515" stroke-width="1.05"/>
<circle cx="386.02" cy="164" r="1.2" fill="none" stroke="#151515" stroke-width="1.05"/>
<circle cx="386.02" cy="166" r="1.2" fill="none" stroke="#151515" stroke-width="1.05"/>
<circle cx="386.02" cy="167.2" r="1.2" fill="none" stroke="#151515" stroke-width="1.05"/>
<circle cx="386.02" cy="172.3" r="1.2" fill="none" stroke="#151515" stroke-width="1.05"/>
<circle cx="386.02" cy="174.3" r="1.2" fill="none" stroke="#151515" stroke-width="1.05"/>
<circle cx="386.02" cy="176.2" r="1.2" fill="none" stroke="#151515" stroke-width="1.05"/>
<circle cx="386.02" cy="188.7" r="1.2" fill="none" stroke="#151515" stroke-width="1.05"/>
<circle cx="386.02" cy="204.6" r="1.2" fill="none" stroke="#151515" stroke-width="1.05"/>
<circle cx="386.02" cy="206" r="1.2" fill="none" stroke="#151515" stroke-width="1.05"/>
<circle cx="386.02" cy="207.5" r="1.2" fill="none" stroke="#151515" stroke-width="1.05"/>
<circle cx="386.02" cy="213.5" r="1.2" fill="none" stroke="#151515" stroke-width="1.05"/>
<circle cx="386.02" cy="219.4" r="1.2" fill="none" stroke="#151515" stroke-width="1.05"/>
<circle cx="386.02" cy="226.9" r="1.2" fill="none" stroke="#151515" stroke-width="1.05"/>
<line x1="395.62" y1="110.8" x2="395.62" y2="124.1" stroke="#333" stroke-width="1.15" stroke-dasharray="2.6 2.4"/>
<line x1="395.62" y1="145.4" x2="395.62" y2="133.2" stroke="#333" stroke-width="1.15" stroke-dasharray="2.6 2.4"/>
<line x1="393.32" y1="110.8" x2="397.93" y2="110.8" stroke="#222" stroke-width="1.5"/>
<line x1="393.32" y1="145.4" x2="397.93" y2="145.4" stroke="#222" stroke-width="1.5"/>
<rect x="391.62" y="124.1" width="8.00" height="9.10" fill="#f5ec24" stroke="#5e5a10" stroke-width="1"/>
<line x1="391.62" y1="128.6" x2="399.62" y2="128.6" stroke="#5e5a10" stroke-width="1.3"/>
<circle cx="395.62" cy="105.8" r="1.2" fill="none" stroke="#151515" stroke-width="1.05"/>
<circle cx="395.62" cy="107.5" r="1.2" fill="none" stroke="#151515" stroke-width="1.05"/>
<circle cx="395.62" cy="109.2" r="1.2" fill="none" stroke="#151515" stroke-width="1.05"/>
<circle cx="395.62" cy="146.5" r="1.2" fill="none" stroke="#151515" stroke-width="1.05"/>
<circle cx="395.62" cy="148.6" r="1.2" fill="none" stroke="#151515" stroke-width="1.05"/>
<circle cx="395.62" cy="150.7" r="1.2" fill="none" stroke="#151515" stroke-width="1.05"/>
<circle cx="395.62" cy="152.8" r="1.2" fill="none" stroke="#151515" stroke-width="1.05"/>
<circle cx="395.62" cy="154.9" r="1.2" fill="none" stroke="#151515" stroke-width="1.05"/>
<circle cx="395.62" cy="157" r="1.2" fill="none" stroke="#151515" stroke-width="1.05"/>
<circle cx="395.62" cy="159" r="1.2" fill="none" stroke="#151515" stroke-width="1.05"/>
<circle cx="395.62" cy="162.5" r="1.2" fill="none" stroke="#151515" stroke-width="1.05"/>
<circle cx="395.62" cy="164.6" r="1.2" fill="none" stroke="#151515" stroke-width="1.05"/>
<circle cx="395.62" cy="166.7" r="1.2" fill="none" stroke="#151515" stroke-width="1.05"/>
<circle cx="395.62" cy="168.8" r="1.2" fill="none" stroke="#151515" stroke-width="1.05"/>
<circle cx="395.62" cy="174.5" r="1.2" fill="none" stroke="#151515" stroke-width="1.05"/>
<circle cx="395.62" cy="185.7" r="1.2" fill="none" stroke="#151515" stroke-width="1.05"/>
<circle cx="395.62" cy="187.7" r="1.2" fill="none" stroke="#151515" stroke-width="1.05"/>
<circle cx="395.62" cy="189.7" r="1.2" fill="none" stroke="#151515" stroke-width="1.05"/>
<line x1="406.17" y1="84.7" x2="406.17" y2="97.9" stroke="#333" stroke-width="1.15" stroke-dasharray="2.6 2.4"/>
<line x1="406.17" y1="127.6" x2="406.17" y2="109.8" stroke="#333" stroke-width="1.15" stroke-dasharray="2.6 2.4"/>
<line x1="403.87" y1="84.7" x2="408.47" y2="84.7" stroke="#222" stroke-width="1.5"/>
<line x1="403.87" y1="127.6" x2="408.47" y2="127.6" stroke="#222" stroke-width="1.5"/>
<rect x="402.17" y="97.9" width="8.00" height="11.90" fill="#3a55ad" stroke="#1e2a5a" stroke-width="1"/>
<line x1="402.17" y1="102.3" x2="410.17" y2="102.3" stroke="#1e2a5a" stroke-width="1.3"/>
<circle cx="406.17" cy="129.6" r="1.2" fill="none" stroke="#151515" stroke-width="1.05"/>
<circle cx="406.17" cy="134.5" r="1.2" fill="none" stroke="#151515" stroke-width="1.05"/>
<circle cx="406.17" cy="140.5" r="1.2" fill="none" stroke="#151515" stroke-width="1.05"/>
<circle cx="406.17" cy="143" r="1.2" fill="none" stroke="#151515" stroke-width="1.05"/>
<circle cx="406.17" cy="145.8" r="1.2" fill="none" stroke="#151515" stroke-width="1.05"/>
<circle cx="406.17" cy="148.6" r="1.2" fill="none" stroke="#151515" stroke-width="1.05"/>
<circle cx="406.17" cy="151.4" r="1.2" fill="none" stroke="#151515" stroke-width="1.05"/>
<circle cx="406.17" cy="184.2" r="1.2" fill="none" stroke="#151515" stroke-width="1.05"/>
<circle cx="406.17" cy="186.2" r="1.2" fill="none" stroke="#151515" stroke-width="1.05"/>
<circle cx="406.17" cy="188.1" r="1.2" fill="none" stroke="#151515" stroke-width="1.05"/>
<circle cx="406.17" cy="207.5" r="1.2" fill="none" stroke="#151515" stroke-width="1.05"/>
<circle cx="406.17" cy="220" r="1.2" fill="none" stroke="#151515" stroke-width="1.05"/>
<circle cx="406.17" cy="222.4" r="1.2" fill="none" stroke="#151515" stroke-width="1.05"/>
<line x1="415.77" y1="80.3" x2="415.77" y2="95.9" stroke="#333" stroke-width="1.15" stroke-dasharray="2.6 2.4"/>
<line x1="415.77" y1="126.6" x2="415.77" y2="107.8" stroke="#333" stroke-width="1.15" stroke-dasharray="2.6 2.4"/>
<line x1="413.47" y1="80.3" x2="418.07" y2="80.3" stroke="#222" stroke-width="1.5"/>
<line x1="413.47" y1="126.6" x2="418.07" y2="126.6" stroke="#222" stroke-width="1.5"/>
<rect x="411.77" y="95.9" width="8.00" height="11.90" fill="#f5ec24" stroke="#5e5a10" stroke-width="1"/>
<line x1="411.77" y1="101.9" x2="419.77" y2="101.9" stroke="#5e5a10" stroke-width="1.3"/>
<circle cx="415.77" cy="128.6" r="1.2" fill="none" stroke="#151515" stroke-width="1.05"/>
<circle cx="415.77" cy="131" r="1.2" fill="none" stroke="#151515" stroke-width="1.05"/>
<circle cx="415.77" cy="133.5" r="1.2" fill="none" stroke="#151515" stroke-width="1.05"/>
<circle cx="415.77" cy="136" r="1.2" fill="none" stroke="#151515" stroke-width="1.05"/>
<circle cx="415.77" cy="140.5" r="1.2" fill="none" stroke="#151515" stroke-width="1.05"/>
<circle cx="415.77" cy="151.4" r="1.2" fill="none" stroke="#151515" stroke-width="1.05"/>
<circle cx="415.77" cy="153.3" r="1.2" fill="none" stroke="#151515" stroke-width="1.05"/>
<circle cx="415.77" cy="155.3" r="1.2" fill="none" stroke="#151515" stroke-width="1.05"/>
<circle cx="415.77" cy="163.3" r="1.2" fill="none" stroke="#151515" stroke-width="1.05"/>
<circle cx="415.77" cy="165.3" r="1.2" fill="none" stroke="#151515" stroke-width="1.05"/>
<circle cx="415.77" cy="167.2" r="1.2" fill="none" stroke="#151515" stroke-width="1.05"/>
<circle cx="415.77" cy="221.8" r="1.2" fill="none" stroke="#151515" stroke-width="1.05"/>
<circle cx="415.77" cy="242.4" r="1.2" fill="none" stroke="#151515" stroke-width="1.05"/>
<line x1="426.32" y1="50.6" x2="426.32" y2="74.4" stroke="#333" stroke-width="1.15" stroke-dasharray="2.6 2.4"/>
<line x1="426.32" y1="119.3" x2="426.32" y2="93" stroke="#333" stroke-width="1.15" stroke-dasharray="2.6 2.4"/>
<line x1="424.02" y1="50.6" x2="428.62" y2="50.6" stroke="#222" stroke-width="1.5"/>
<line x1="424.02" y1="119.3" x2="428.62" y2="119.3" stroke="#222" stroke-width="1.5"/>
<rect x="422.32" y="74.4" width="8.00" height="18.60" fill="#3a55ad" stroke="#1e2a5a" stroke-width="1"/>
<line x1="422.32" y1="82.3" x2="430.32" y2="82.3" stroke="#1e2a5a" stroke-width="1.3"/>
<circle cx="426.32" cy="35.8" r="1.2" fill="none" stroke="#151515" stroke-width="1.05"/>
<circle cx="426.32" cy="44.3" r="1.2" fill="none" stroke="#151515" stroke-width="1.05"/>
<circle cx="426.32" cy="121.7" r="1.2" fill="none" stroke="#151515" stroke-width="1.05"/>
<circle cx="426.32" cy="124" r="1.2" fill="none" stroke="#151515" stroke-width="1.05"/>
<circle cx="426.32" cy="126.5" r="1.2" fill="none" stroke="#151515" stroke-width="1.05"/>
<circle cx="426.32" cy="129" r="1.2" fill="none" stroke="#151515" stroke-width="1.05"/>
<circle cx="426.32" cy="132.6" r="1.2" fill="none" stroke="#151515" stroke-width="1.05"/>
<line x1="435.93" y1="45.4" x2="435.93" y2="68.9" stroke="#333" stroke-width="1.15" stroke-dasharray="2.6 2.4"/>
<line x1="435.93" y1="107.8" x2="435.93" y2="85.3" stroke="#333" stroke-width="1.15" stroke-dasharray="2.6 2.4"/>
<line x1="433.62" y1="45.4" x2="438.23" y2="45.4" stroke="#222" stroke-width="1.5"/>
<line x1="433.62" y1="107.8" x2="438.23" y2="107.8" stroke="#222" stroke-width="1.5"/>
<rect x="431.93" y="68.9" width="8.00" height="16.40" fill="#f5ec24" stroke="#5e5a10" stroke-width="1"/>
<line x1="431.93" y1="77.4" x2="439.93" y2="77.4" stroke="#5e5a10" stroke-width="1.3"/>
<circle cx="435.93" cy="25.1" r="1.2" fill="none" stroke="#151515" stroke-width="1.05"/>
<circle cx="435.93" cy="30.6" r="1.2" fill="none" stroke="#151515" stroke-width="1.05"/>
<circle cx="435.93" cy="32.6" r="1.2" fill="none" stroke="#151515" stroke-width="1.05"/>
<circle cx="435.93" cy="34.8" r="1.2" fill="none" stroke="#151515" stroke-width="1.05"/>
<circle cx="435.93" cy="37" r="1.2" fill="none" stroke="#151515" stroke-width="1.05"/>
<circle cx="435.93" cy="39.2" r="1.2" fill="none" stroke="#151515" stroke-width="1.05"/>
<circle cx="435.93" cy="41.2" r="1.2" fill="none" stroke="#151515" stroke-width="1.05"/>
<circle cx="435.93" cy="43" r="1.2" fill="none" stroke="#151515" stroke-width="1.05"/>
<circle cx="435.93" cy="44.6" r="1.2" fill="none" stroke="#151515" stroke-width="1.05"/>
<circle cx="435.93" cy="109.8" r="1.2" fill="none" stroke="#151515" stroke-width="1.05"/>
<circle cx="435.93" cy="111.5" r="1.2" fill="none" stroke="#151515" stroke-width="1.05"/>
<circle cx="435.93" cy="113" r="1.2" fill="none" stroke="#151515" stroke-width="1.05"/>
<circle cx="435.93" cy="114.5" r="1.2" fill="none" stroke="#151515" stroke-width="1.05"/>
<circle cx="435.93" cy="116" r="1.2" fill="none" stroke="#151515" stroke-width="1.05"/>
<circle cx="435.93" cy="117.5" r="1.2" fill="none" stroke="#151515" stroke-width="1.05"/>
<circle cx="435.93" cy="118.7" r="1.2" fill="none" stroke="#151515" stroke-width="1.05"/>
<circle cx="435.93" cy="142.5" r="1.2" fill="none" stroke="#151515" stroke-width="1.05"/>
<line x1="446.47" y1="100.9" x2="446.47" y2="116.4" stroke="#333" stroke-width="1.15" stroke-dasharray="2.6 2.4"/>
<line x1="446.47" y1="144.4" x2="446.47" y2="127.4" stroke="#333" stroke-width="1.15" stroke-dasharray="2.6 2.4"/>
<line x1="444.17" y1="100.9" x2="448.77" y2="100.9" stroke="#222" stroke-width="1.5"/>
<line x1="444.17" y1="144.4" x2="448.77" y2="144.4" stroke="#222" stroke-width="1.5"/>
<rect x="442.47" y="116.4" width="8.00" height="11.00" fill="#3a55ad" stroke="#1e2a5a" stroke-width="1"/>
<line x1="442.47" y1="121.5" x2="450.47" y2="121.5" stroke="#1e2a5a" stroke-width="1.3"/>
<circle cx="446.47" cy="145.7" r="1.2" fill="none" stroke="#151515" stroke-width="1.05"/>
<circle cx="446.47" cy="148" r="1.2" fill="none" stroke="#151515" stroke-width="1.05"/>
<circle cx="446.47" cy="150.1" r="1.2" fill="none" stroke="#151515" stroke-width="1.05"/>
<circle cx="446.47" cy="158.9" r="1.2" fill="none" stroke="#151515" stroke-width="1.05"/>
<circle cx="446.47" cy="160" r="1.2" fill="none" stroke="#151515" stroke-width="1.05"/>
<circle cx="446.47" cy="224.4" r="1.2" fill="none" stroke="#151515" stroke-width="1.05"/>
<line x1="456.07" y1="102.3" x2="456.07" y2="119.8" stroke="#333" stroke-width="1.15" stroke-dasharray="2.6 2.4"/>
<line x1="456.07" y1="153.9" x2="456.07" y2="133.5" stroke="#333" stroke-width="1.15" stroke-dasharray="2.6 2.4"/>
<line x1="453.77" y1="102.3" x2="458.38" y2="102.3" stroke="#222" stroke-width="1.5"/>
<line x1="453.77" y1="153.9" x2="458.38" y2="153.9" stroke="#222" stroke-width="1.5"/>
<rect x="452.07" y="119.8" width="8.00" height="13.70" fill="#f5ec24" stroke="#5e5a10" stroke-width="1"/>
<line x1="452.07" y1="126.2" x2="460.07" y2="126.2" stroke="#5e5a10" stroke-width="1.3"/>
<circle cx="456.07" cy="96.1" r="1.2" fill="none" stroke="#151515" stroke-width="1.05"/>
<circle cx="456.07" cy="154.5" r="1.2" fill="none" stroke="#151515" stroke-width="1.05"/>
<circle cx="456.07" cy="156.5" r="1.2" fill="none" stroke="#151515" stroke-width="1.05"/>
<circle cx="456.07" cy="158.3" r="1.2" fill="none" stroke="#151515" stroke-width="1.05"/>
<circle cx="456.07" cy="162.5" r="1.2" fill="none" stroke="#151515" stroke-width="1.05"/>
<line x1="466.62" y1="188.2" x2="466.62" y2="213.4" stroke="#333" stroke-width="1.15" stroke-dasharray="2.6 2.4"/>
<line x1="466.62" y1="250.1" x2="466.62" y2="230.6" stroke="#333" stroke-width="1.15" stroke-dasharray="2.6 2.4"/>
<line x1="464.32" y1="188.2" x2="468.93" y2="188.2" stroke="#222" stroke-width="1.5"/>
<line x1="464.32" y1="250.1" x2="468.93" y2="250.1" stroke="#222" stroke-width="1.5"/>
<rect x="462.62" y="213.4" width="8.00" height="17.20" fill="#3a55ad" stroke="#1e2a5a" stroke-width="1"/>
<line x1="462.62" y1="222.6" x2="470.62" y2="222.6" stroke="#1e2a5a" stroke-width="1.3"/>
<circle cx="466.62" cy="124.9" r="1.2" fill="none" stroke="#151515" stroke-width="1.05"/>
<circle cx="466.62" cy="178.3" r="1.2" fill="none" stroke="#151515" stroke-width="1.05"/>
<circle cx="466.62" cy="183" r="1.2" fill="none" stroke="#151515" stroke-width="1.05"/>
<circle cx="466.62" cy="185" r="1.2" fill="none" stroke="#151515" stroke-width="1.05"/>
<circle cx="466.62" cy="186.7" r="1.2" fill="none" stroke="#151515" stroke-width="1.05"/>
<line x1="476.23" y1="186.9" x2="476.23" y2="211.5" stroke="#333" stroke-width="1.15" stroke-dasharray="2.6 2.4"/>
<line x1="476.23" y1="248" x2="476.23" y2="228.4" stroke="#333" stroke-width="1.15" stroke-dasharray="2.6 2.4"/>
<line x1="473.93" y1="186.9" x2="478.53" y2="186.9" stroke="#222" stroke-width="1.5"/>
<line x1="473.93" y1="248" x2="478.53" y2="248" stroke="#222" stroke-width="1.5"/>
<rect x="472.23" y="211.5" width="8.00" height="16.90" fill="#f5ec24" stroke="#5e5a10" stroke-width="1"/>
<line x1="472.23" y1="220.7" x2="480.23" y2="220.7" stroke="#5e5a10" stroke-width="1.3"/>
<circle cx="476.23" cy="113.3" r="1.2" fill="none" stroke="#151515" stroke-width="1.05"/>
<circle cx="476.23" cy="141.5" r="1.2" fill="none" stroke="#151515" stroke-width="1.05"/>
<circle cx="476.23" cy="150.7" r="1.2" fill="none" stroke="#151515" stroke-width="1.05"/>
<circle cx="476.23" cy="153.3" r="1.2" fill="none" stroke="#151515" stroke-width="1.05"/>
<circle cx="476.23" cy="163.4" r="1.2" fill="none" stroke="#151515" stroke-width="1.05"/>
<circle cx="476.23" cy="164.6" r="1.2" fill="none" stroke="#151515" stroke-width="1.05"/>
<circle cx="476.23" cy="171" r="1.2" fill="none" stroke="#151515" stroke-width="1.05"/>
<circle cx="476.23" cy="173" r="1.2" fill="none" stroke="#151515" stroke-width="1.05"/>
<circle cx="476.23" cy="175.4" r="1.2" fill="none" stroke="#151515" stroke-width="1.05"/>
<circle cx="476.23" cy="180.4" r="1.2" fill="none" stroke="#151515" stroke-width="1.05"/>
<circle cx="476.23" cy="182.3" r="1.2" fill="none" stroke="#151515" stroke-width="1.05"/>
<circle cx="476.23" cy="184.2" r="1.2" fill="none" stroke="#151515" stroke-width="1.05"/>
<circle cx="476.23" cy="185.6" r="1.2" fill="none" stroke="#151515" stroke-width="1.05"/>
<line x1="486.77" y1="191.1" x2="486.77" y2="220.7" stroke="#333" stroke-width="1.15" stroke-dasharray="2.6 2.4"/>
<line x1="486.77" y1="267.8" x2="486.77" y2="240.2" stroke="#333" stroke-width="1.15" stroke-dasharray="2.6 2.4"/>
<line x1="484.47" y1="191.1" x2="489.07" y2="191.1" stroke="#222" stroke-width="1.5"/>
<line x1="484.47" y1="267.8" x2="489.07" y2="267.8" stroke="#222" stroke-width="1.5"/>
<rect x="482.77" y="220.7" width="8.00" height="19.50" fill="#3a55ad" stroke="#1e2a5a" stroke-width="1"/>
<line x1="482.77" y1="229.9" x2="490.77" y2="229.9" stroke="#1e2a5a" stroke-width="1.3"/>
<circle cx="486.77" cy="160.2" r="1.2" fill="none" stroke="#151515" stroke-width="1.05"/>
<circle cx="486.77" cy="165.9" r="1.2" fill="none" stroke="#151515" stroke-width="1.05"/>
<circle cx="486.77" cy="171.6" r="1.2" fill="none" stroke="#151515" stroke-width="1.05"/>
<circle cx="486.77" cy="174" r="1.2" fill="none" stroke="#151515" stroke-width="1.05"/>
<circle cx="486.77" cy="176.5" r="1.2" fill="none" stroke="#151515" stroke-width="1.05"/>
<circle cx="486.77" cy="179" r="1.2" fill="none" stroke="#151515" stroke-width="1.05"/>
<circle cx="486.77" cy="181.5" r="1.2" fill="none" stroke="#151515" stroke-width="1.05"/>
<circle cx="486.77" cy="184" r="1.2" fill="none" stroke="#151515" stroke-width="1.05"/>
<circle cx="486.77" cy="186.5" r="1.2" fill="none" stroke="#151515" stroke-width="1.05"/>
<circle cx="486.77" cy="188" r="1.2" fill="none" stroke="#151515" stroke-width="1.05"/>
<circle cx="486.77" cy="272.2" r="1.2" fill="none" stroke="#151515" stroke-width="1.05"/>
<circle cx="486.77" cy="275.3" r="1.2" fill="none" stroke="#151515" stroke-width="1.05"/>
<line x1="496.38" y1="191.3" x2="496.38" y2="221.9" stroke="#333" stroke-width="1.15" stroke-dasharray="2.6 2.4"/>
<line x1="496.38" y1="270.9" x2="496.38" y2="241.3" stroke="#333" stroke-width="1.15" stroke-dasharray="2.6 2.4"/>
<line x1="494.07" y1="191.3" x2="498.68" y2="191.3" stroke="#222" stroke-width="1.5"/>
<line x1="494.07" y1="270.9" x2="498.68" y2="270.9" stroke="#222" stroke-width="1.5"/>
<rect x="492.38" y="221.9" width="8.00" height="19.40" fill="#f5ec24" stroke="#5e5a10" stroke-width="1"/>
<line x1="492.38" y1="231.6" x2="500.38" y2="231.6" stroke="#5e5a10" stroke-width="1.3"/>
<circle cx="496.38" cy="115" r="1.2" fill="none" stroke="#151515" stroke-width="1.05"/>
<circle cx="496.38" cy="149.8" r="1.2" fill="none" stroke="#151515" stroke-width="1.05"/>
<circle cx="496.38" cy="154.1" r="1.2" fill="none" stroke="#151515" stroke-width="1.05"/>
<circle cx="496.38" cy="168.8" r="1.2" fill="none" stroke="#151515" stroke-width="1.05"/>
<circle cx="496.38" cy="184.2" r="1.2" fill="none" stroke="#151515" stroke-width="1.05"/>
<circle cx="496.38" cy="186.3" r="1.2" fill="none" stroke="#151515" stroke-width="1.05"/>
<circle cx="496.38" cy="188.6" r="1.2" fill="none" stroke="#151515" stroke-width="1.05"/>
<circle cx="496.38" cy="271.6" r="1.2" fill="none" stroke="#151515" stroke-width="1.05"/>
<rect x="442.20" y="19.0" width="58.80" height="36.5" fill="#fff"/>
<rect x="458.6" y="27" width="7.8" height="6.6" fill="#3a55ad" stroke="#111" stroke-width="1"/>
<rect x="458.6" y="39.1" width="7.8" height="6.6" fill="#f5ec24" stroke="#111" stroke-width="1"/>
<text x="475.3" y="34.6" font-size="10.2" fill="#111" stroke="#111" stroke-width="0.2">AAM</text>
<text x="475.3" y="46.6" font-size="10.2" fill="#111" stroke="#111" stroke-width="0.2">EAM</text>
<rect x="58.15" y="18.0" width="443.85" height="276.80" fill="none" stroke="#7c7c7c" stroke-width="1.55"/>
<line x1="49.5" y1="28.20" x2="58.35" y2="28.20" stroke="#4a4a4a" stroke-width="1.15"/>
<text transform="translate(43.9 28.20) rotate(-90)" text-anchor="middle" font-size="9.5" fill="#111" stroke="#111" stroke-width="0.2">3</text>
<line x1="49.5" y1="58.35" x2="58.35" y2="58.35" stroke="#4a4a4a" stroke-width="1.15"/>
<text transform="translate(43.9 58.35) rotate(-90)" text-anchor="middle" font-size="9.5" fill="#111" stroke="#111" stroke-width="0.2">2</text>
<line x1="49.5" y1="88.50" x2="58.35" y2="88.50" stroke="#4a4a4a" stroke-width="1.15"/>
<text transform="translate(43.9 88.50) rotate(-90)" text-anchor="middle" font-size="9.5" fill="#111" stroke="#111" stroke-width="0.2">1</text>
<line x1="49.5" y1="118.65" x2="58.35" y2="118.65" stroke="#4a4a4a" stroke-width="1.15"/>
<text transform="translate(43.9 118.65) rotate(-90)" text-anchor="middle" font-size="9.5" fill="#111" stroke="#111" stroke-width="0.2">0</text>
<line x1="49.5" y1="148.80" x2="58.35" y2="148.80" stroke="#4a4a4a" stroke-width="1.15"/>
<text transform="translate(43.9 150.10) rotate(-90)" text-anchor="middle" font-size="9.5" fill="#111" stroke="#111" stroke-width="0.2">−1</text>
<line x1="49.5" y1="178.95" x2="58.35" y2="178.95" stroke="#4a4a4a" stroke-width="1.15"/>
<text transform="translate(43.9 180.25) rotate(-90)" text-anchor="middle" font-size="9.5" fill="#111" stroke="#111" stroke-width="0.2">−2</text>
<line x1="49.5" y1="209.10" x2="58.35" y2="209.10" stroke="#4a4a4a" stroke-width="1.15"/>
<text transform="translate(43.9 210.40) rotate(-90)" text-anchor="middle" font-size="9.5" fill="#111" stroke="#111" stroke-width="0.2">−3</text>
<line x1="49.5" y1="239.25" x2="58.35" y2="239.25" stroke="#4a4a4a" stroke-width="1.15"/>
<text transform="translate(43.9 240.55) rotate(-90)" text-anchor="middle" font-size="9.5" fill="#111" stroke="#111" stroke-width="0.2">−4</text>
<line x1="49.5" y1="269.40" x2="58.35" y2="269.40" stroke="#4a4a4a" stroke-width="1.15"/>
<text transform="translate(43.9 270.70) rotate(-90)" text-anchor="middle" font-size="9.5" fill="#111" stroke="#111" stroke-width="0.2">−5</text>
<text transform="translate(25.8 156.2) rotate(-90)" text-anchor="middle" font-size="8.4" fill="#111" stroke="#111" stroke-width="0.2">Log 2 expression</text>
<path d="M68.58 291.30L68.58 289.00M68.58 291.30L71.23 290.55M68.58 291.30L70.48 293.30M68.58 291.30L66.67 293.30M68.58 291.30L65.92 290.55" stroke="#111" stroke-width="1.35" stroke-linecap="round" fill="none"/>
<line x1="68.42" y1="294.8" x2="68.42" y2="303.5" stroke="#4a4a4a" stroke-width="1.1"/>
<text transform="translate(71.72 310.5) rotate(-90)" text-anchor="end" font-size="8.25" fill="#111" stroke="#111" stroke-width="0.18">ADIPOQ</text>
<path d="M88.73 291.30L88.73 289.00M88.73 291.30L91.38 290.55M88.73 291.30L90.63 293.30M88.73 291.30L86.83 293.30M88.73 291.30L86.08 290.55" stroke="#111" stroke-width="1.35" stroke-linecap="round" fill="none"/>
<line x1="88.58" y1="294.8" x2="88.58" y2="303.5" stroke="#4a4a4a" stroke-width="1.1"/>
<text transform="translate(91.88 310.5) rotate(-90)" text-anchor="end" font-size="8.25" fill="#111" stroke="#111" stroke-width="0.18">AKT1</text>
<path d="M108.88 291.30L108.88 289.00M108.88 291.30L111.53 290.55M108.88 291.30L110.78 293.30M108.88 291.30L106.97 293.30M108.88 291.30L106.22 290.55" stroke="#111" stroke-width="1.35" stroke-linecap="round" fill="none"/>
<line x1="108.72" y1="294.8" x2="108.72" y2="303.5" stroke="#4a4a4a" stroke-width="1.1"/>
<text transform="translate(112.02 310.5) rotate(-90)" text-anchor="end" font-size="8.25" fill="#111" stroke="#111" stroke-width="0.18">ALOX12</text>
<path d="M129.03 291.30L129.03 289.00M129.03 291.30L131.68 290.55M129.03 291.30L130.93 293.30M129.03 291.30L127.12 293.30M129.03 291.30L126.38 290.55" stroke="#111" stroke-width="1.35" stroke-linecap="round" fill="none"/>
<line x1="128.88" y1="294.8" x2="128.88" y2="303.5" stroke="#4a4a4a" stroke-width="1.1"/>
<text transform="translate(132.18 310.5) rotate(-90)" text-anchor="end" font-size="8.25" fill="#111" stroke="#111" stroke-width="0.18">ALOX15</text>
<path d="M149.18 291.30L149.18 289.00M149.18 291.30L151.83 290.55M149.18 291.30L151.08 293.30M149.18 291.30L147.28 293.30M149.18 291.30L146.53 290.55" stroke="#111" stroke-width="1.35" stroke-linecap="round" fill="none"/>
<line x1="149.03" y1="294.8" x2="149.03" y2="303.5" stroke="#4a4a4a" stroke-width="1.1"/>
<text transform="translate(152.33 310.5) rotate(-90)" text-anchor="end" font-size="8.25" fill="#111" stroke="#111" stroke-width="0.18">ALOX15B</text>
<path d="M169.32 291.30L169.32 289.00M169.32 291.30L171.97 290.55M169.32 291.30L171.22 293.30M169.32 291.30L167.42 293.30M169.32 291.30L166.67 290.55" stroke="#111" stroke-width="1.35" stroke-linecap="round" fill="none"/>
<line x1="169.17" y1="294.8" x2="169.17" y2="303.5" stroke="#4a4a4a" stroke-width="1.1"/>
<text transform="translate(172.47 310.5) rotate(-90)" text-anchor="end" font-size="8.25" fill="#111" stroke="#111" stroke-width="0.18">BMP2</text>
<path d="M189.47 291.30L189.47 289.00M189.47 291.30L192.12 290.55M189.47 291.30L191.38 293.30M189.47 291.30L187.57 293.30M189.47 291.30L186.82 290.55" stroke="#111" stroke-width="1.35" stroke-linecap="round" fill="none"/>
<line x1="189.32" y1="294.8" x2="189.32" y2="303.5" stroke="#4a4a4a" stroke-width="1.1"/>
<text transform="translate(192.62 310.5) rotate(-90)" text-anchor="end" font-size="8.25" fill="#111" stroke="#111" stroke-width="0.18">CGA</text>
<path d="M209.62 291.30L209.62 289.00M209.62 291.30L212.28 290.55M209.62 291.30L211.53 293.30M209.62 291.30L207.72 293.30M209.62 291.30L206.97 290.55" stroke="#111" stroke-width="1.35" stroke-linecap="round" fill="none"/>
<line x1="209.47" y1="294.8" x2="209.47" y2="303.5" stroke="#4a4a4a" stroke-width="1.1"/>
<text transform="translate(212.78 310.5) rotate(-90)" text-anchor="end" font-size="8.25" fill="#111" stroke="#111" stroke-width="0.18">CXCR4</text>
<path d="M229.77 291.30L229.77 289.00M229.77 291.30L232.42 290.55M229.77 291.30L231.67 293.30M229.77 291.30L227.87 293.30M229.77 291.30L227.12 290.55" stroke="#111" stroke-width="1.35" stroke-linecap="round" fill="none"/>
<line x1="229.62" y1="294.8" x2="229.62" y2="303.5" stroke="#4a4a4a" stroke-width="1.1"/>
<text transform="translate(232.92 310.5) rotate(-90)" text-anchor="end" font-size="8.25" fill="#111" stroke="#111" stroke-width="0.18">CYP19A1</text>
<path d="M249.92 291.30L249.92 289.00M249.92 291.30L252.57 290.55M249.92 291.30L251.82 293.30M249.92 291.30L248.02 293.30M249.92 291.30L247.27 290.55" stroke="#111" stroke-width="1.35" stroke-linecap="round" fill="none"/>
<line x1="249.77" y1="294.8" x2="249.77" y2="303.5" stroke="#4a4a4a" stroke-width="1.1"/>
<text transform="translate(253.07 310.5) rotate(-90)" text-anchor="end" font-size="8.25" fill="#111" stroke="#111" stroke-width="0.18">ERG</text>
<path d="M270.07 291.30L270.07 289.00M270.07 291.30L272.72 290.55M270.07 291.30L271.97 293.30M270.07 291.30L268.18 293.30M270.07 291.30L267.43 290.55" stroke="#111" stroke-width="1.35" stroke-linecap="round" fill="none"/>
<line x1="269.93" y1="294.8" x2="269.93" y2="303.5" stroke="#4a4a4a" stroke-width="1.1"/>
<text transform="translate(273.23 310.5) rotate(-90)" text-anchor="end" font-size="8.25" fill="#111" stroke="#111" stroke-width="0.18">FASN</text>
<path d="M290.22 291.30L290.22 289.00M290.22 291.30L292.87 290.55M290.22 291.30L292.12 293.30M290.22 291.30L288.32 293.30M290.22 291.30L287.57 290.55" stroke="#111" stroke-width="1.35" stroke-linecap="round" fill="none"/>
<line x1="290.07" y1="294.8" x2="290.07" y2="303.5" stroke="#4a4a4a" stroke-width="1.1"/>
<text transform="translate(293.38 310.5) rotate(-90)" text-anchor="end" font-size="8.25" fill="#111" stroke="#111" stroke-width="0.18">IL1B</text>
<path d="M310.37 291.30L310.37 289.00M310.37 291.30L313.02 290.55M310.37 291.30L312.27 293.30M310.37 291.30L308.47 293.30M310.37 291.30L307.72 290.55" stroke="#111" stroke-width="1.35" stroke-linecap="round" fill="none"/>
<line x1="310.22" y1="294.8" x2="310.22" y2="303.5" stroke="#4a4a4a" stroke-width="1.1"/>
<text transform="translate(313.52 310.5) rotate(-90)" text-anchor="end" font-size="8.25" fill="#111" stroke="#111" stroke-width="0.18">IL6</text>
<path d="M330.52 291.30L330.52 289.00M330.52 291.30L333.17 290.55M330.52 291.30L332.42 293.30M330.52 291.30L328.62 293.30M330.52 291.30L327.88 290.55" stroke="#111" stroke-width="1.35" stroke-linecap="round" fill="none"/>
<line x1="330.38" y1="294.8" x2="330.38" y2="303.5" stroke="#4a4a4a" stroke-width="1.1"/>
<text transform="translate(333.68 310.5) rotate(-90)" text-anchor="end" font-size="8.25" fill="#111" stroke="#111" stroke-width="0.18">IL8</text>
<path d="M350.67 291.30L350.67 289.00M350.67 291.30L353.32 290.55M350.67 291.30L352.57 293.30M350.67 291.30L348.77 293.30M350.67 291.30L348.02 290.55" stroke="#111" stroke-width="1.35" stroke-linecap="round" fill="none"/>
<line x1="350.52" y1="294.8" x2="350.52" y2="303.5" stroke="#4a4a4a" stroke-width="1.1"/>
<text transform="translate(353.82 310.5) rotate(-90)" text-anchor="end" font-size="8.25" fill="#111" stroke="#111" stroke-width="0.18">NFKB1</text>
<path d="M370.82 291.30L370.82 289.00M370.82 291.30L373.47 290.55M370.82 291.30L372.72 293.30M370.82 291.30L368.93 293.30M370.82 291.30L368.18 290.55" stroke="#111" stroke-width="1.35" stroke-linecap="round" fill="none"/>
<line x1="370.68" y1="294.8" x2="370.68" y2="303.5" stroke="#4a4a4a" stroke-width="1.1"/>
<text transform="translate(373.98 310.5) rotate(-90)" text-anchor="end" font-size="8.25" fill="#111" stroke="#111" stroke-width="0.18">PIK3C3</text>
<path d="M390.97 291.30L390.97 289.00M390.97 291.30L393.62 290.55M390.97 291.30L392.87 293.30M390.97 291.30L389.07 293.30M390.97 291.30L388.32 290.55" stroke="#111" stroke-width="1.35" stroke-linecap="round" fill="none"/>
<line x1="390.82" y1="294.8" x2="390.82" y2="303.5" stroke="#4a4a4a" stroke-width="1.1"/>
<text transform="translate(394.12 310.5) rotate(-90)" text-anchor="end" font-size="8.25" fill="#111" stroke="#111" stroke-width="0.18">PIK3CA</text>
<path d="M411.12 291.30L411.12 289.00M411.12 291.30L413.77 290.55M411.12 291.30L413.02 293.30M411.12 291.30L409.23 293.30M411.12 291.30L408.48 290.55" stroke="#111" stroke-width="1.35" stroke-linecap="round" fill="none"/>
<line x1="410.98" y1="294.8" x2="410.98" y2="303.5" stroke="#4a4a4a" stroke-width="1.1"/>
<text transform="translate(414.28 310.5) rotate(-90)" text-anchor="end" font-size="8.25" fill="#111" stroke="#111" stroke-width="0.18">PIK3R1</text>
<path d="M431.27 291.30L431.27 289.00M431.27 291.30L433.92 290.55M431.27 291.30L433.17 293.30M431.27 291.30L429.38 293.30M431.27 291.30L428.62 290.55" stroke="#111" stroke-width="1.35" stroke-linecap="round" fill="none"/>
<line x1="431.12" y1="294.8" x2="431.12" y2="303.5" stroke="#4a4a4a" stroke-width="1.1"/>
<text transform="translate(434.43 310.5) rotate(-90)" text-anchor="end" font-size="8.25" fill="#111" stroke="#111" stroke-width="0.18">PLA2G2A</text>
<path d="M451.42 291.30L451.42 289.00M451.42 291.30L454.07 290.55M451.42 291.30L453.32 293.30M451.42 291.30L449.52 293.30M451.42 291.30L448.77 290.55" stroke="#111" stroke-width="1.35" stroke-linecap="round" fill="none"/>
<line x1="451.27" y1="294.8" x2="451.27" y2="303.5" stroke="#4a4a4a" stroke-width="1.1"/>
<text transform="translate(454.57 310.5) rotate(-90)" text-anchor="end" font-size="8.25" fill="#111" stroke="#111" stroke-width="0.18">TGFB1</text>
<path d="M471.57 291.30L471.57 289.00M471.57 291.30L474.22 290.55M471.57 291.30L473.47 293.30M471.57 291.30L469.68 293.30M471.57 291.30L468.93 290.55" stroke="#111" stroke-width="1.35" stroke-linecap="round" fill="none"/>
<line x1="471.43" y1="294.8" x2="471.43" y2="303.5" stroke="#4a4a4a" stroke-width="1.1"/>
<text transform="translate(474.73 310.5) rotate(-90)" text-anchor="end" font-size="8.25" fill="#111" stroke="#111" stroke-width="0.18">TIMP3</text>
<line x1="491.57" y1="294.8" x2="491.57" y2="303.5" stroke="#4a4a4a" stroke-width="1.1"/>
<text transform="translate(494.88 310.5) rotate(-90)" text-anchor="end" font-size="8.25" fill="#111" stroke="#111" stroke-width="0.18">TNF</text>
<line x1="370.68" y1="351.7" x2="370.68" y2="361.3" stroke="#4a4a4a" stroke-width="1.1"/>
<line x1="390.82" y1="351.7" x2="390.82" y2="361.3" stroke="#4a4a4a" stroke-width="1.1"/>
<line x1="410.98" y1="351.7" x2="410.98" y2="361.3" stroke="#4a4a4a" stroke-width="1.1"/>
<text x="390.6" y="377" text-anchor="middle" font-size="8.3" fill="#111" stroke="#111" stroke-width="0.2">PI3K complex</text>
</svg>
<div class="f" style="left:0;top:0;width:520px;height:1px;background:#6e6e6e"></div>
<div class="f" style="left:1px;top:1px;width:517px;height:1px;background:#ababab"></div>
<div class="f" style="left:0;top:0;width:1px;height:396px;background:#6e6e6e"></div>
<div class="f" style="left:1px;top:1px;width:1px;height:393px;background:#ababab"></div>
<div class="f" style="left:517px;top:1px;width:1px;height:393px;background:#c8c8c8"></div>
<div class="f" style="left:518px;top:0;width:2px;height:396px;background:#7a7a7a"></div>
<div class="f" style="left:0;top:394px;width:520px;height:2px;background:#8c8c8c"></div>
</body></html>
